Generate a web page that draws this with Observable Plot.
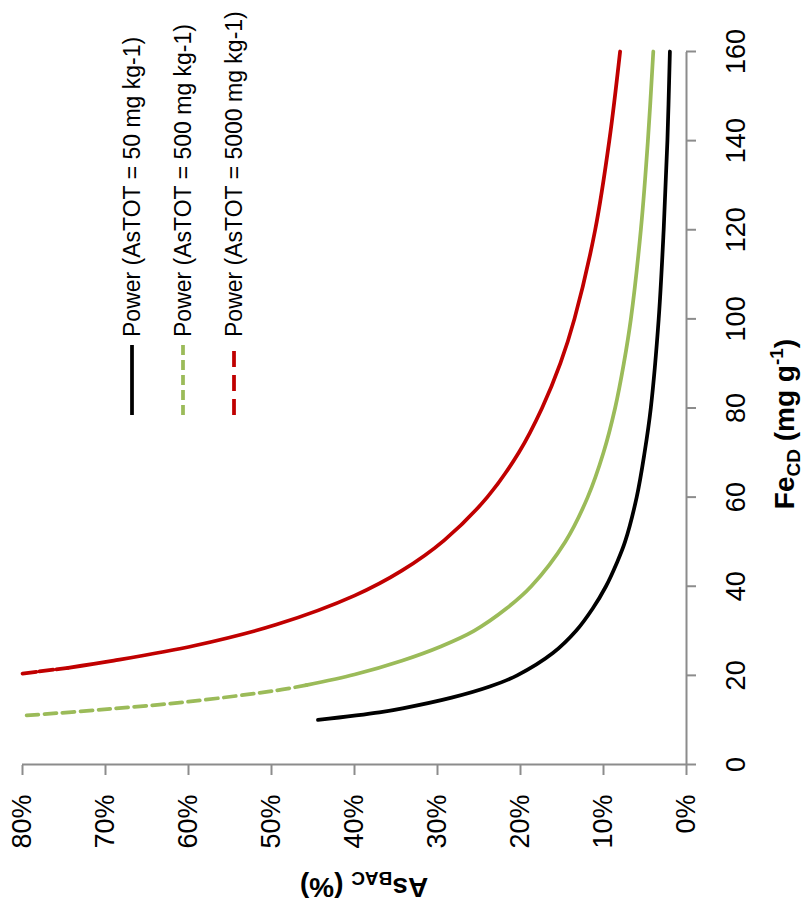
<!DOCTYPE html>
<html>
<head>
<meta charset="utf-8">
<script src="https://cdn.jsdelivr.net/npm/d3@7"></script>
<script src="https://cdn.jsdelivr.net/npm/@observablehq/plot@0.6"></script>
<style>
  html, body { margin: 0; padding: 0; background: #fff; }
  #wrap { position: relative; width: 804px; height: 916px; overflow: hidden; background: #fff; }
  #chart { position: absolute; left: 0; top: 0; width: 916px; height: 804px;
           transform-origin: 0 0; transform: translate(0px, 916px) rotate(-90deg); }
</style>
</head>
<body>
<div id="wrap"><div id="chart"></div></div>
<script>
// ---- data ----
const feTicks = [0, 20, 40, 60, 80, 100, 120, 140, 160];
const asTicks = [0, 0.1, 0.2, 0.3, 0.4, 0.5, 0.6, 0.7, 0.8];

const seriesNames = ["Power (AsTOT = 50 mg kg-1)", "Power (AsTOT = 500 mg kg-1)", "Power (AsTOT = 5000 mg kg-1)"];
const seriesColors = ["#000000", "#9BBB59", "#C00000"];
const legendDash = ["none", "10,5", "16,8"];

// AsTOT = 50 (Fe in mg g-1, As in %)
const blackFe = [10, 11.7, 12.6, 15, 17.5, 20, 25, 30, 35, 40, 45, 50, 60, 70, 80, 100, 120, 140, 160];
const blackAs = [44.4, 37.0, 34.2, 28.3, 23.7, 20.4, 16.1, 13.3, 11.3, 9.7, 8.45, 7.4, 6.0, 5.05, 4.3, 3.35, 2.75, 2.3, 2.0];
const blackDashEnd = 0;      // no dashed part

// AsTOT = 500
const greenFe = [11.0, 12.3, 14.1, 16.6, 17.8, 20.2, 23.3, 26.5, 30, 35, 40, 50, 60, 70, 80, 90, 100, 120, 140, 160];
const greenAs = [79.5, 70.5, 60, 49.5, 45.8, 40, 34.3, 29.6, 25.6, 21.7, 18.7, 14.6, 11.9, 10.0, 8.6, 7.55, 6.7, 5.5, 4.65, 4.0];
const greenDashEnd = 17.8;

// AsTOT = 5000
const redFe = [20.4, 21.7, 23.3, 26.7, 31.4, 37.9, 43.5, 50.3, 60, 70, 80, 90, 100, 120, 140, 160];
const redAs = [80, 74.5, 69.0, 59.2, 49.4, 40, 34.3, 29.2, 24.0, 20.2, 17.4, 15.2, 13.5, 11.0, 9.3, 8.0];
const redDashEnd = 21.7;

// ---- build chart ----
const axisGray = "#8C8C8C";
const FONT = "'Liberation Sans', Arial, sans-serif";

function rows(fe, as) { return fe.map((f, i) => ({fe: f, as: as[i] / 100})); }
const seriesData = [
  {rows: rows(blackFe, blackAs), dashEnd: blackDashEnd, dash: "none"},
  {rows: rows(greenFe, greenAs), dashEnd: greenDashEnd, dash: "12,6"},
  {rows: rows(redFe, redAs), dashEnd: redDashEnd, dash: "14,3"}
];

const lineMarks = [];
seriesData.forEach((s, i) => {
  const dashed = s.rows.filter(d => d.fe <= s.dashEnd);
  const solid = s.rows.filter(d => d.fe >= s.dashEnd);
  if (dashed.length > 1) lineMarks.push(Plot.line(dashed, {x: "fe", y: "as", stroke: seriesColors[i], strokeWidth: 3.75, strokeDasharray: s.dash, curve: "catmull-rom"}));
  lineMarks.push(Plot.line(solid, {x: "fe", y: "as", stroke: seriesColors[i], strokeWidth: 3.75, curve: "catmull-rom"}));
});

const chart = Plot.plot({
  width: 916,
  height: 804,
  marginLeft: 151,
  marginRight: 52,
  marginTop: 22,
  marginBottom: 118,
  x: {domain: [0, 160], axis: null},
  y: {domain: [0, 0.8], axis: null},
  style: {fontFamily: FONT, background: "#fff", color: "#000", overflow: "visible"},
  marks: [
    Plot.axisX({ticks: feTicks, tickSize: 10, tickPadding: 29, fontSize: 27, stroke: axisGray, strokeWidth: 2, fill: "#000", label: null}),
    Plot.axisY({ticks: asTicks, tickSize: 10, tickPadding: 20, fontSize: 27, stroke: axisGray, strokeWidth: 2, fill: "#000", label: null,
                tickFormat: d => Math.round(d * 100) + "%"}),
    Plot.ruleY([0], {stroke: axisGray, strokeWidth: 2}),
    Plot.ruleX([0], {stroke: axisGray, strokeWidth: 2}),
    ...lineMarks
  ]
});

document.getElementById("chart").appendChild(chart);

const svg = d3.select(chart);

// x-axis title: Fe_CD (mg g^-1)
const xt = svg.append("text")
  .attr("x", 492).attr("y", 794)
  .attr("text-anchor", "middle")
  .style("font-family", FONT).style("font-weight", "bold").style("font-size", "28px").attr("fill", "#000");
xt.append("tspan").text("Fe");
xt.append("tspan").attr("dy", 6).style("font-size", "19px").text("CD");
xt.append("tspan").attr("dy", -6).text(" (mg g");
xt.append("tspan").attr("dy", -11).style("font-size", "19px").text("-1");
xt.append("tspan").attr("dy", 11).text(")");

// y-axis title: As_BAC (%)
const yt = svg.append("text")
  .attr("transform", "translate(38,364) rotate(-90)")
  .attr("text-anchor", "middle")
  .style("font-family", FONT).style("font-weight", "bold").style("font-size", "28px").attr("fill", "#000");
yt.append("tspan").text("As");
yt.append("tspan").attr("dy", 6).style("font-size", "19px").text("BAC");
yt.append("tspan").attr("dy", -6).text(" (%)");

// legend
const legendY = [132, 183, 234];
const lg = svg.append("g");
seriesNames.forEach((name, i) => {
  lg.append("line")
    .attr("x1", 501).attr("x2", 571).attr("y1", legendY[i]).attr("y2", legendY[i])
    .attr("stroke", seriesColors[i]).attr("stroke-width", 3.75)
    .attr("stroke-dasharray", legendDash[i]);
  lg.append("text")
    .attr("x", 579).attr("y", legendY[i]).attr("dy", "0.35em")
    .attr("text-anchor", "start")
    .style("font-family", FONT).style("font-size", "23px").attr("fill", "#000")
    .text(name);
});
</script>
</body>
</html>
